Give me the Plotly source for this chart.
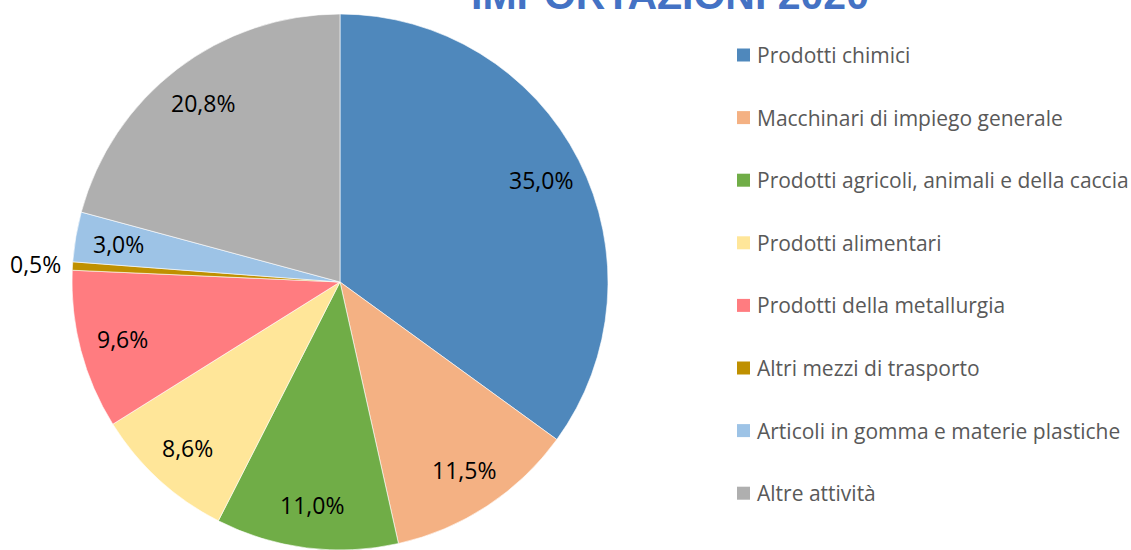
import numpy as np
import plotly.graph_objects as go

# ---- data ----
categories = [
    "Prodotti chimici",
    "Macchinari di impiego generale",
    "Prodotti agricoli, animali e della caccia",
    "Prodotti alimentari",
    "Prodotti della metallurgia",
    "Altri mezzi di trasporto",
    "Articoli in gomma e materie plastiche",
    "Altre attività",
]
values = [35.0, 11.5, 11.0, 8.6, 9.6, 0.5, 3.0, 20.8]
colors = ["#4F88BC", "#F4B183", "#70AD47", "#FFE699", "#FF7C80", "#BF9000", "#9DC3E6", "#AFAFAF"]
title_text = "IMPORTAZIONI 2020"

# ---- layout geometry (pixels) ----
W, H = 1131, 550
cx, cy, r = 340, 282, 268
dom_x = [(cx - r) / W, (cx + r) / W]
dom_y = [(H - cy - r) / H, (H - cy + r) / H]

fig = go.Figure()
fig.add_trace(go.Pie(
    labels=categories,
    values=values,
    sort=False,
    direction="clockwise",
    rotation=0,
    marker=dict(colors=colors, line=dict(color="white", width=0.6)),
    textinfo="none",
    hoverinfo="label+percent",
    showlegend=False,
    domain=dict(x=dom_x, y=dom_y),
))

annotations = []
# data labels along each slice bisector
vals = np.array(values, dtype=float)
frac = vals / vals.sum()
mids = (np.cumsum(frac) - frac / 2) * 2 * np.pi
for v, f, th in zip(values, frac, mids):
    k = 1.14 if f < 0.01 else 0.84
    px = cx + k * r * np.sin(th)
    py = cy - k * r * np.cos(th)
    annotations.append(dict(
        x=px / W, y=1 - py / H, xref="paper", yref="paper",
        text=f"{v:.1f}%".replace(".", ","), showarrow=False,
        font=dict(family="Open Sans", size=23, color="#000000"),
        xanchor="center", yanchor="middle",
    ))

# legend (manual, to match spacing)
leg_x0, leg_y0, leg_step, sq = 737, 55, 62.6, 13
shapes = []
for i, (cat, col) in enumerate(zip(categories, colors)):
    yc = leg_y0 + i * leg_step
    shapes.append(dict(
        type="rect", xref="paper", yref="paper",
        x0=leg_x0 / W, x1=(leg_x0 + sq) / W,
        y0=1 - (yc + sq / 2) / H, y1=1 - (yc - sq / 2) / H,
        fillcolor=col, line=dict(width=0),
    ))
    annotations.append(dict(
        x=(leg_x0 + 18) / W, y=1 - yc / H, xref="paper", yref="paper",
        text=cat, showarrow=False, xanchor="left", yanchor="middle",
        font=dict(family="Open Sans", size=21, color="#595959"),
    ))

# title (partly cut off at the top as in the reference)
annotations.append(dict(
    x=670 / W, y=1 + 5 / H, xref="paper", yref="paper",
    text=f"<b>{title_text}</b>", showarrow=False,
    xanchor="center", yanchor="middle",
    font=dict(family="Liberation Sans", size=41, color="#4472C4"),
))

fig.update_layout(
    width=W, height=H, autosize=False,
    margin=dict(l=0, r=0, t=0, b=0),
    paper_bgcolor="white", plot_bgcolor="white",
    annotations=annotations, shapes=shapes,
)

fig.write_html("out.html", config={"displayModeBar": False},
               post_script="document.body.style.margin='0';")
